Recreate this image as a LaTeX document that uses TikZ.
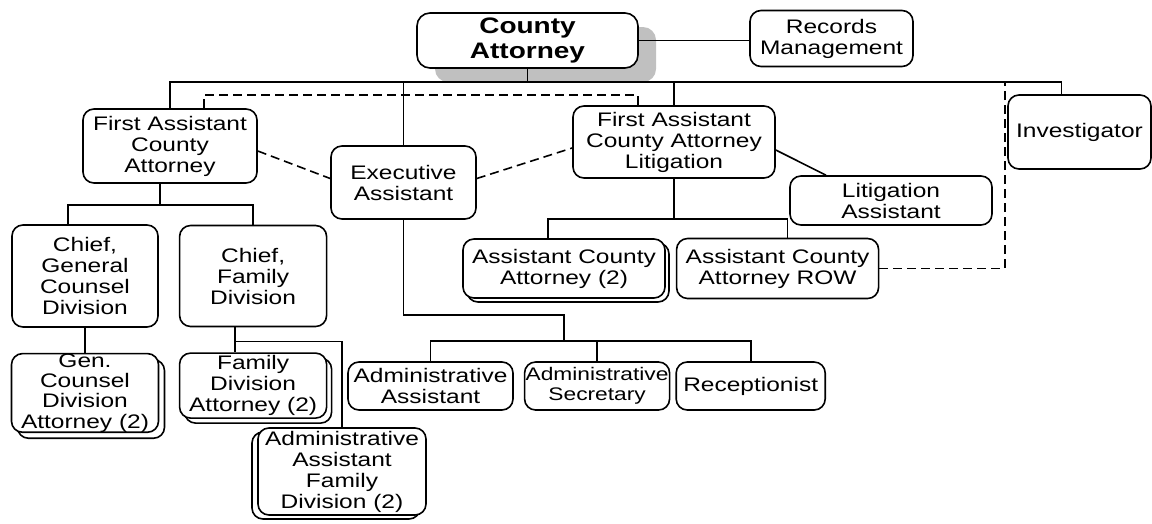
\documentclass[tikz,border=0pt]{standalone}
\usepackage{fontspec}
\setmainfont[FakeStretch=1.25]{Liberation Sans}
\usepackage{tikz}
\usetikzlibrary{positioning, shadows}
\definecolor{shadowgray}{HTML}{C0C0C0}

\begin{document}
\begin{tikzpicture}[
    x=1pt, y=-1pt, line width=1.6pt,
    box/.style={draw, fill=white, rounded corners=11pt, align=center, inner sep=0pt, font=\fontsize{19.6}{21}\selectfont},
    stack/.style 2 args={copy shadow={shadow xshift=#1pt, shadow yshift=#2pt, draw, fill=white}},
    linkdash/.style={dash pattern=on 9pt off 5pt},
  ]
  \useasboundingbox (0,0) rectangle (1152,523);

  % Head of office
  \node[box, font=\fontsize{22.4}{25}\selectfont\bfseries, minimum width=221pt, minimum height=55pt, rounded corners=13pt,
        drop shadow={shadow xshift=18pt, shadow yshift=-14pt, fill=shadowgray, opacity=1}] (ca) at (527.5,40.5) {County\\Attorney};
  \node[box, minimum width=163pt, minimum height=56pt] (rec) at (831.5,38.5) {Records\\Management};

  % Second level
  \node[box, minimum width=174pt, minimum height=74pt] (faca) at (170,146) {First Assistant\\County\\Attorney};
  \node[box, minimum width=145pt, minimum height=73pt] (ea) at (403.5,182.5) {Executive\\Assistant};
  \node[box, minimum width=202pt, minimum height=72pt] (facal) at (674,142) {First Assistant\\County Attorney\\Litigation};
  \node[box, minimum width=143pt, minimum height=74pt] (inv) at (1079.5,132) {Investigator};
  \node[box, minimum width=202pt, minimum height=49pt] (la) at (891,200.5) {Litigation\\Assistant};

  % Litigation staff
  \node[box, stack={4}{-4}, minimum width=202pt, minimum height=59pt] (aca) at (564,268.5) {Assistant County\\Attorney (2)};
  \node[box, minimum width=202pt, minimum height=60pt, right=10pt of aca] (acarow) {Assistant County\\Attorney ROW};

  % Divisions
  \node[box, minimum width=146pt, minimum height=102pt] (cgc) at (85,276) {Chief,\\General\\Counsel\\Division};
  \node[box, minimum width=147pt, minimum height=101pt, right=20pt of cgc] (cfd) {Chief,\\Family\\Division};
  \node[box, stack={6}{-6}, font=\fontsize{19.6}{20.3}\selectfont, minimum width=147pt, minimum height=78pt, below=25pt of cgc] (gca) {Gen.\\Counsel\\Division\\Attorney (2)};
  \node[box, stack={5}{-5}, minimum width=147pt, minimum height=65pt, below=25pt of cfd] (fda) {Family\\Division\\Attorney (2)};
  \node[box, stack={-6}{-4}, minimum width=168pt, minimum height=87pt] (aafd) at (342,471.5) {Administrative\\Assistant\\Family\\Division (2)};

  % Support staff
  \node[box, minimum width=165pt, minimum height=48pt] (adma) at (430.5,386) {Administrative\\Assistant};
  \node[box, font=\fontsize{18.2}{20}\selectfont, minimum width=145pt, minimum height=48pt, right=10pt of adma] (adms) {Administrative\\Secretary};
  \node[box, minimum width=149pt, minimum height=48pt, right=5pt of adms] (rcp) {Receptionist};

  \coordinate (bus) at (527.5,82);
  \coordinate (rowlink) at (1005,82);
  \coordinate (litbus) at (674,219);
  \coordinate (legbus) at (160,205);
  \coordinate (admbus) at (564,341);

  \draw (ca.east) -- (ca.east -| rec.west);
  \draw (ca) -- (bus);
  \draw (faca.north) |- ([xshift=-18pt]inv.north |- bus) -- ([xshift=-18pt]inv.north);
  \draw (ea.north) -- (ea.north |- bus);
  \draw (facal.north) -- (facal.north |- bus);

  \draw (facal.south) -- (litbus);
  \draw ([xshift=-16pt]aca.north) |- (litbus) -| ([xshift=10pt]acarow.north);
  \draw ([yshift=-8pt]facal.east) -- ([xshift=-65pt]la.north);

  \draw ([xshift=-10pt]faca.south) -- (legbus);
  \draw ([xshift=-17pt]cgc.north) |- (legbus) -| (cfd.north);
  \draw (cgc) -- (gca);
  \draw ([xshift=-18pt]cfd.south) -- ([xshift=-18pt]fda.north);
  \draw ([xshift=-18pt]cfd.south) -- ++(0,14) -| (aafd.north);

  \draw (ea.south) -- ++(0,95) -| (admbus);
  \draw (adma.north) |- (admbus) -| (rcp.north);
  \draw (adms.north) -- (adms.north |- admbus);

  % Dotted reporting lines
  \draw[linkdash] ([xshift=34pt]faca.north) -- ++(0,-13) -| ([xshift=-36pt]facal.north);
  \draw[linkdash] ([yshift=-5pt]faca.east) -- ([yshift=4pt]ea.west);
  \draw[linkdash] ([yshift=4pt]ea.east) -- ([yshift=-6pt]facal.west);
  \draw[linkdash] (acarow.east) -| (rowlink);
\end{tikzpicture}
\end{document}
